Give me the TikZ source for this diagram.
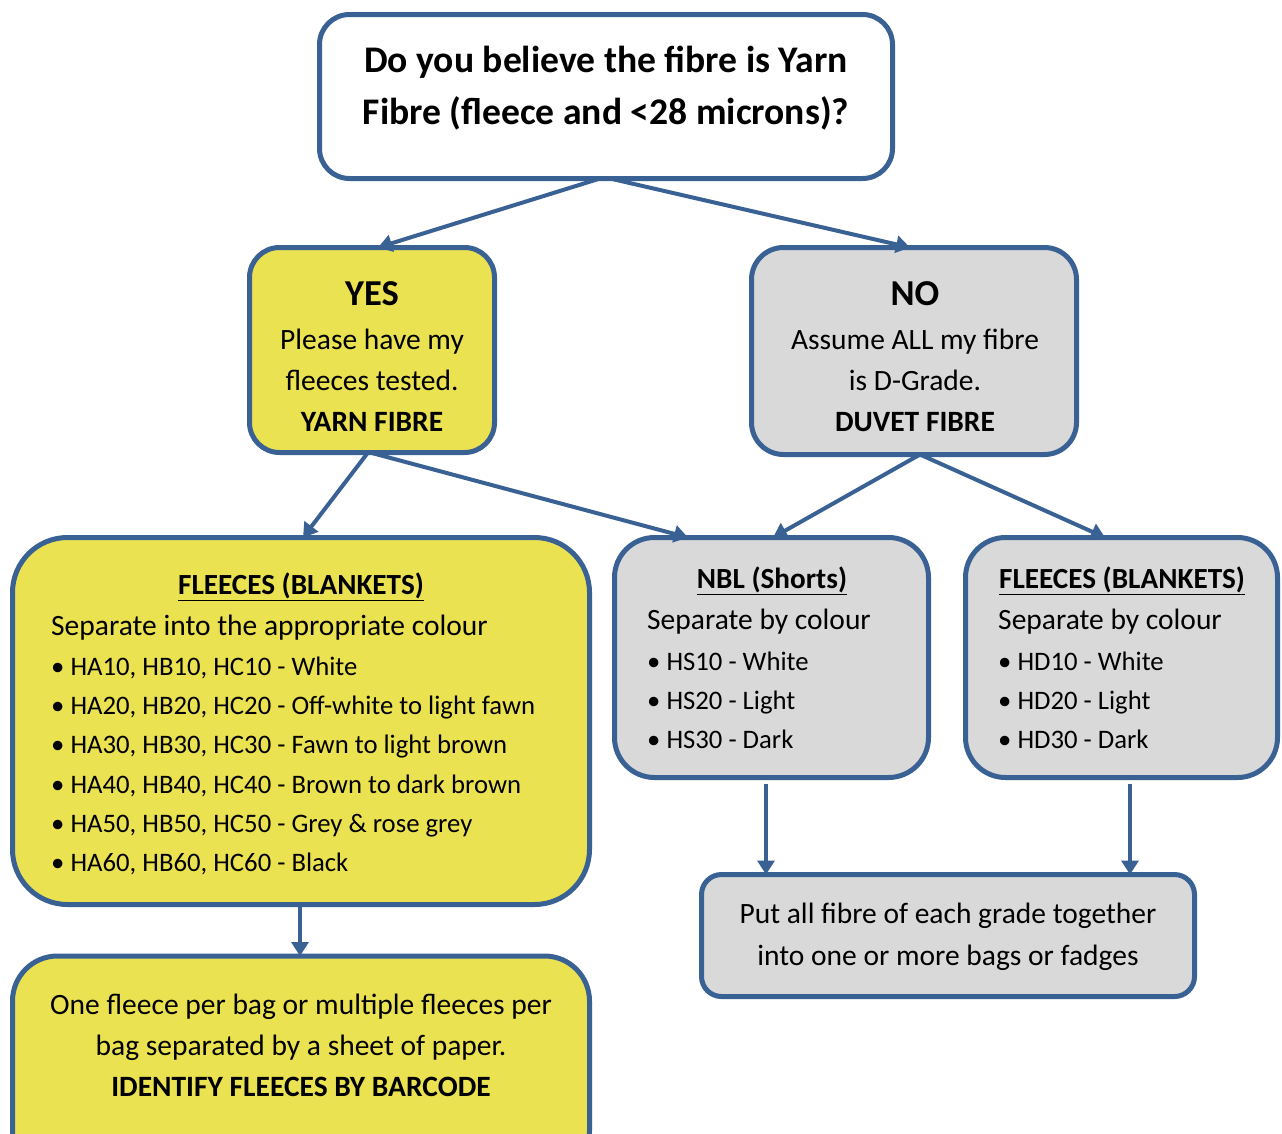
\documentclass[tikz,border=0pt]{standalone}
\usepackage{fontspec}
\setmainfont{Carlito}
\usetikzlibrary{arrows.meta}
\definecolor{bord}{HTML}{3A6194}
\definecolor{yel}{HTML}{EAE251}
\definecolor{gry}{HTML}{D9D9D9}
\begin{document}
\begin{tikzpicture}[x=1pt,y=-1pt,
  box/.style={draw=bord, line width=5pt, inner sep=0pt, outer sep=0pt, rectangle},
  arr/.style={draw=bord, line width=4pt, -{Triangle[length=14pt,width=17pt]}},
  big/.style={font=\fontsize{37.6}{44}\selectfont\bfseries, inner sep=0pt, anchor=base},
  hd/.style={font=\fontsize{36.5}{44}\selectfont\bfseries, inner sep=0pt, anchor=base},
  ct/.style={font=\fontsize{29.5}{36}\selectfont, inner sep=0pt, anchor=base},
  ctb/.style={font=\fontsize{29.5}{36}\selectfont\bfseries, inner sep=0pt, anchor=base},
  lt/.style={font=\fontsize{29.5}{36}\selectfont, inner sep=0pt, anchor=base west},
  bl/.style={font=\fontsize{26.7}{32}\selectfont, inner sep=0pt, anchor=base west},
  ul/.style={font=\fontsize{29.2}{36}\selectfont\bfseries, inner sep=0pt, anchor=base}]
\useasboundingbox (0,0) rectangle (1282,1133);
\clip (0,0) rectangle (1282,1133);
% boxes
\node[box, fill=white, rounded corners=30pt, minimum width=573pt, minimum height=164pt] (top) at (606,96.5) {};
\node[box, fill=yel, rounded corners=30pt, minimum width=245pt, minimum height=205pt] (yes) at (372,350) {};
\node[box, fill=gry, rounded corners=32pt, minimum width=325pt, minimum height=207pt] (no) at (914,351) {};
\node[box, fill=yel, rounded corners=55pt, minimum width=577pt, minimum height=367pt] (left) at (301,721) {};
\node[box, fill=gry, rounded corners=40pt, minimum width=314pt, minimum height=240pt] (nbl) at (771.5,657.5) {};
\node[box, fill=gry, rounded corners=40pt, minimum width=312pt, minimum height=240pt] (right) at (1121.5,657.5) {};
\node[box, fill=gry, rounded corners=20pt, minimum width=493pt, minimum height=122pt] (put) at (948,935.5) {};
\node[box, fill=yel, rounded corners=45pt, minimum width=577pt, minimum height=220pt] (bottom) at (301,1066) {};
% arrows
\draw[arr] ([xshift=-6pt]top.south) -- ([xshift=6pt]yes.north);
\draw[arr] ([xshift=4pt]top.south) -- ([xshift=-4pt]no.north);
\draw[arr] ([xshift=-4pt]yes.south) -- ([xshift=2pt]left.north);
\draw[arr] ([xshift=-2pt]yes.south) -- ([xshift=-83.5pt]nbl.north);
\draw[arr] ([xshift=6pt]no.south) -- ([xshift=1.5pt]nbl.north);
\draw[arr] ([xshift=6pt]no.south) -- ([xshift=-16.5pt]right.north);
\draw[arr] ([xshift=-5.5pt,yshift=-6pt]nbl.south) -- ([xshift=-182pt]put.north);
\draw[arr] ([xshift=8.5pt,yshift=-6pt]right.south) -- ([xshift=182pt]put.north);
\draw[arr] ([xshift=-1pt,yshift=-2pt]left.south) -- ([xshift=-1pt]bottom.north);
% top text
\node[big] (t1) at (606,72) {Do you believe the fibre is Yarn};
\node[big] (t2) at (606,124) {Fibre (fleece and <28 microns)?};
% yes
\node[hd] (y1) at (372,305) {YES};
\node[ct] (y2) at (372,349) {Please have my};
\node[ct] (y3) at (372,390) {fleeces tested.};
\node[ctb] (y4) at (372,431) {YARN FIBRE};
% no
\node[hd] (n1) at (915,305) {NO};
\node[ct] (n2) at (915,349) {Assume ALL my fibre};
\node[ct] (n3) at (915,390) {is D-Grade.};
\node[ctb] (n4) at (915,431) {DUVET FIBRE};
% left
\node[ul] (l0) at (301,594) {\underline{FLEECES (BLANKETS)}};
\node[lt] (l1) at (51,635) {Separate into the appropriate colour};
\node[bl] (l2) at (51,675) {• HA10, HB10, HC10 - White};
\node[bl] (l3) at (51,714) {• HA20, HB20, HC20 - Off-white to light fawn};
\node[bl] (l4) at (51,753) {• HA30, HB30, HC30 - Fawn to light brown};
\node[bl] (l5) at (51,793) {• HA40, HB40, HC40 - Brown to dark brown};
\node[bl] (l6) at (51,832) {• HA50, HB50, HC50 - Grey \& rose grey};
\node[bl] (l7) at (51,871) {• HA60, HB60, HC60 - Black};
% nbl
\node[ul] (b0) at (772,588) {\underline{NBL (Shorts)}};
\node[lt] (b1) at (647,629) {Separate by colour};
\node[bl] (b2) at (647,670) {• HS10 - White};
\node[bl] (b3) at (647,709) {• HS20 - Light};
\node[bl] (b4) at (647,748) {• HS30 - Dark};
% right
\node[ul] (r0) at (1122,588) {\underline{FLEECES (BLANKETS)}};
\node[lt] (r1) at (998,629) {Separate by colour};
\node[bl] (r2) at (998,670) {• HD10 - White};
\node[bl] (r3) at (998,709) {• HD20 - Light};
\node[bl] (r4) at (998,748) {• HD30 - Dark};
% put
\node[ct] (p1) at (948,923) {Put all fibre of each grade together};
\node[ct] (p2) at (948,965) {into one or more bags or fadges};
% bottom
\node[ct] (o1) at (301,1014) {One fleece per bag or multiple fleeces per};
\node[ct] (o2) at (301,1055) {bag separated by a sheet of paper.};
\node[ctb] (o3) at (301,1096) {IDENTIFY FLEECES BY BARCODE};
\end{tikzpicture}
\end{document}
